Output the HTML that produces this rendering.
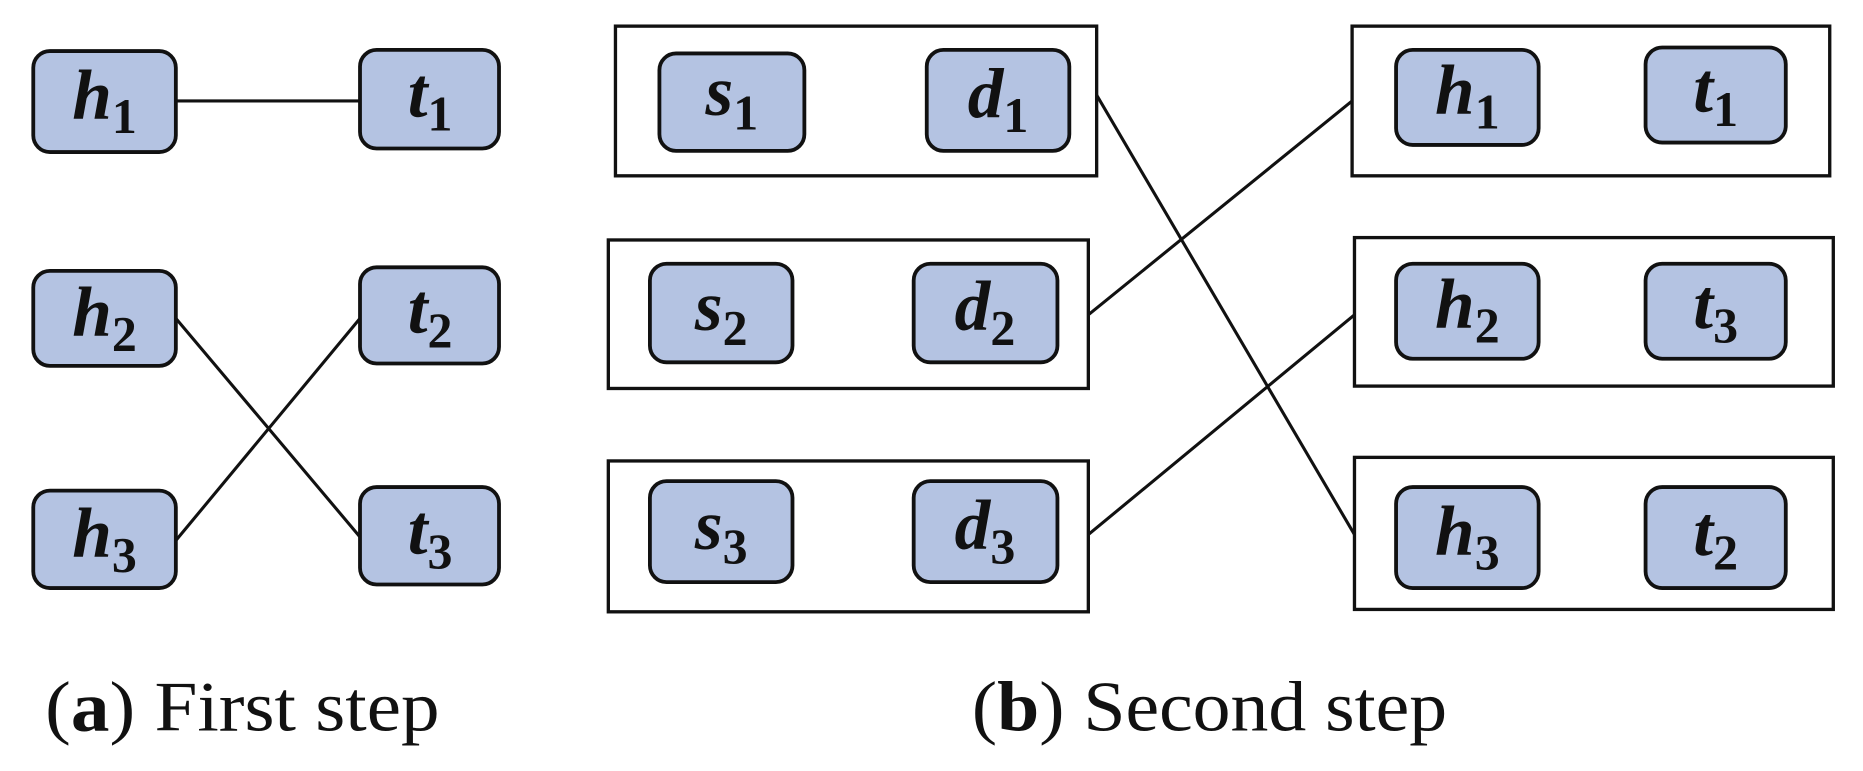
<!DOCTYPE html>
<html><head><meta charset="utf-8"><style>
html,body{margin:0;padding:0;background:#fff;width:1863px;height:771px;overflow:hidden}
svg{display:block}
.n{fill:#b4c3e2;stroke:#111;stroke-width:3.2}
.b{fill:none;stroke:#111;stroke-width:2.8}
.l{stroke:#111;stroke-width:2.6;fill:none}
.m{font-family:"Liberation Serif",serif;font-style:italic;font-weight:bold;font-size:60px;fill:#111;text-anchor:middle}
.m tspan{font-size:42px;font-style:normal}
.c{font-family:"Liberation Serif",serif;font-size:60px;fill:#111}
</style></head><body>
<svg width="1863" height="771" viewBox="0 0 1568 649" preserveAspectRatio="none">
<line class="l" x1="148" y1="85" x2="303" y2="85"/>
<line class="l" x1="148" y1="268" x2="303" y2="452"/>
<line class="l" x1="148" y1="455" x2="303" y2="268"/>
<line class="l" x1="923" y1="80" x2="1140" y2="450"/>
<line class="l" x1="916" y1="265" x2="1138" y2="85"/>
<line class="l" x1="916" y1="450" x2="1140" y2="265"/>
<rect class="b" x="518" y="22" width="405" height="126"/>
<rect class="b" x="512" y="202" width="404" height="125"/>
<rect class="b" x="512" y="388" width="404" height="127"/>
<rect class="b" x="1138" y="22" width="402" height="126"/>
<rect class="b" x="1140" y="200" width="403" height="125"/>
<rect class="b" x="1140" y="385" width="403" height="128"/>
<g>
<rect class="n" x="28" y="43" width="120" height="85" rx="14"/>
<rect class="n" x="303" y="42" width="117" height="83" rx="14"/>
<rect class="n" x="28" y="228" width="120" height="80" rx="14"/>
<rect class="n" x="303" y="225" width="117" height="81" rx="14"/>
<rect class="n" x="28" y="413" width="120" height="82" rx="14"/>
<rect class="n" x="303" y="410" width="117" height="82" rx="14"/>
<rect class="n" x="555" y="45" width="122" height="82" rx="14"/>
<rect class="n" x="780" y="42" width="120" height="85" rx="14"/>
<rect class="n" x="547" y="222" width="120" height="83" rx="14"/>
<rect class="n" x="769" y="222" width="121" height="83" rx="14"/>
<rect class="n" x="547" y="405" width="120" height="85" rx="14"/>
<rect class="n" x="769" y="405" width="121" height="85" rx="14"/>
<rect class="n" x="1175" y="42" width="120" height="80" rx="14"/>
<rect class="n" x="1385" y="40" width="118" height="80" rx="14"/>
<rect class="n" x="1175" y="222" width="120" height="80" rx="14"/>
<rect class="n" x="1385" y="222" width="118" height="80" rx="14"/>
<rect class="n" x="1175" y="410" width="120" height="85" rx="14"/>
<rect class="n" x="1385" y="410" width="118" height="85" rx="14"/>
</g>
<g class="m">
<text x="88" y="100">h<tspan dy="12">1</tspan></text>
<text x="362" y="98">t<tspan dy="12">1</tspan></text>
<text x="88" y="283">h<tspan dy="12">2</tspan></text>
<text x="362" y="280">t<tspan dy="12">2</tspan></text>
<text x="88" y="469">h<tspan dy="12">3</tspan></text>
<text x="362" y="466">t<tspan dy="12">3</tspan></text>
<text x="616" y="97">s<tspan dy="12">1</tspan></text>
<text x="840" y="99">d<tspan dy="12">1</tspan></text>
<text x="607" y="278">s<tspan dy="12">2</tspan></text>
<text x="829" y="278">d<tspan dy="12">2</tspan></text>
<text x="607" y="462">s<tspan dy="12">3</tspan></text>
<text x="829" y="462">d<tspan dy="12">3</tspan></text>
<text x="1235" y="96">h<tspan dy="12">1</tspan></text>
<text x="1444" y="94">t<tspan dy="12">1</tspan></text>
<text x="1235" y="276">h<tspan dy="12">2</tspan></text>
<text x="1444" y="276">t<tspan dy="12">3</tspan></text>
<text x="1235" y="467">h<tspan dy="12">3</tspan></text>
<text x="1444" y="467">t<tspan dy="12">2</tspan></text>
</g>
<text class="c" x="38" y="615" textLength="332" lengthAdjust="spacingAndGlyphs">(<tspan font-weight="bold">a</tspan>) First step</text>
<text class="c" x="818" y="615" textLength="400" lengthAdjust="spacingAndGlyphs">(<tspan font-weight="bold">b</tspan>) Second step</text>
</svg>
</body></html>
